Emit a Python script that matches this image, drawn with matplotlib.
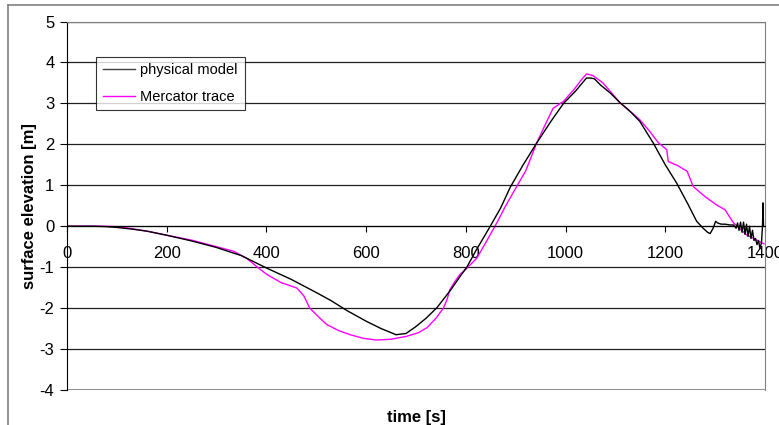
import matplotlib.pyplot as plt
from matplotlib.lines import Line2D

plt.rcParams['font.family'] = ['Liberation Sans', 'DejaVu Sans']

# physical model (black)
phys_t = [0, 50, 80, 100, 130, 160, 200, 250, 300, 350, 380, 400, 450, 500, 530,
          560, 600, 630, 660, 680, 700, 720, 742, 770, 790, 802, 820, 849, 870, 889,
          915, 942, 970, 996, 1020, 1042, 1050, 1058, 1070, 1090, 1109, 1130, 1149,
          1176, 1200, 1223, 1245, 1263, 1276, 1285, 1290, 1296, 1301, 1305, 1312,
          1320, 1330, 1337, 1342, 1345, 1348, 1351, 1354, 1357, 1360, 1363, 1366,
          1369, 1372, 1375, 1378, 1381, 1384, 1387, 1390, 1393, 1395, 1396, 1397]
phys_z = [0, 0, -0.01, -0.03, -0.07, -0.12, -0.22, -0.36, -0.52, -0.72, -0.9, -1.02,
          -1.3, -1.62, -1.82, -2.05, -2.32, -2.5, -2.65, -2.62, -2.45, -2.25, -1.99,
          -1.55, -1.2, -1.0, -0.6, 0.0, 0.45, 0.95, 1.5, 2.03, 2.55, 3.0, 3.3, 3.62,
          3.62, 3.6, 3.45, 3.25, 3.02, 2.8, 2.56, 2.03, 1.5, 1.05, 0.55, 0.12, -0.05,
          -0.15, -0.18, -0.05, 0.12, 0.08, 0.05, 0.05, 0.03, 0.03, -0.05, 0.08, -0.1,
          0.1, -0.15, 0.1, -0.2, 0.05, -0.25, 0.0, -0.3, -0.1, -0.35, -0.3, -0.45,
          -0.35, -0.55, -0.4, 0.0, 0.57, 0.0]

# Mercator trace (magenta)
merc_t = [0, 60, 100, 120, 160, 200, 250, 300, 334, 360, 380, 401, 430, 461, 475,
          487, 505, 521, 545, 568, 595, 621, 650, 681, 705, 722, 740, 755, 762, 768,
          778, 788, 800, 822, 840, 862, 880, 902, 920, 942, 960, 975, 996, 1019, 1030,
          1042, 1055, 1075, 1109, 1130, 1149, 1170, 1186, 1203, 1206, 1225, 1244,
          1256, 1280, 1303, 1320, 1337, 1363, 1385, 1398]
merc_z = [0, 0, -0.01, -0.04, -0.12, -0.22, -0.34, -0.5, -0.61, -0.78, -0.98, -1.18,
          -1.38, -1.51, -1.7, -2.0, -2.22, -2.4, -2.55, -2.65, -2.74, -2.78, -2.76,
          -2.69, -2.6, -2.48, -2.25, -2.0, -1.8, -1.55, -1.35, -1.18, -1.05, -0.78,
          -0.4, 0.08, 0.5, 0.97, 1.35, 2.03, 2.5, 2.88, 3.05, 3.37, 3.55, 3.72, 3.68,
          3.5, 3.02, 2.8, 2.6, 2.3, 2.04, 1.87, 1.58, 1.48, 1.34, 0.97, 0.72, 0.52,
          0.4, 0.08, -0.21, -0.35, -0.43]

x_ticks = [0, 200, 400, 600, 800, 1000, 1200, 1400]
y_ticks = [-4, -3, -2, -1, 0, 1, 2, 3, 4, 5]

fig = plt.figure(figsize=(7.79, 4.25), dpi=100)
ax = fig.add_axes([0.086, 0.0824, 0.896, 0.867])

# outer chart frame (top and left edges visible)
fig.add_artist(Line2D([8 / 779, 1], [1 - 5 / 425, 1 - 5 / 425], color='#808080', lw=1.2))
fig.add_artist(Line2D([8 / 779, 8 / 779], [0, 1 - 5 / 425], color='#808080', lw=1.2))

ax.set_xlim(0, 1400)
ax.set_ylim(-4, 5)
ax.set_yticks(y_ticks)
ax.set_xticks(x_ticks)
ax.set_yticklabels([str(v) for v in y_ticks])
ax.set_xticklabels([str(v) for v in x_ticks])
ax.tick_params(axis='both', labelsize=12, colors='black', width=0.8)
ax.tick_params(axis='y', length=5, pad=4)
ax.tick_params(axis='x', length=4, pad=10, direction='out')

for v in y_ticks:
    ax.axhline(v, color='#202020', lw=0.9, zorder=1)

ax.spines['bottom'].set_position(('data', 0))
ax.spines['bottom'].set_color('black')
ax.spines['left'].set_color('black')
ax.spines['top'].set_color('#808080')
ax.spines['right'].set_color('#808080')

# bottom border of the plot area
ax.axhline(-4, color='#808080', lw=1.2, zorder=1)

ax.plot(phys_t, phys_z, color='black', lw=1.0, label='physical model', zorder=3)
ax.plot(merc_t, merc_z, color='#ff00ff', lw=1.0, label='Mercator trace', zorder=2)

ax.set_ylabel('surface elevation [m]', fontsize=12, fontweight='bold', labelpad=2)
ax.set_xlabel('time [s]', fontsize=12, fontweight='bold')
ax.xaxis.set_label_coords(0.5, -0.055)

leg = ax.legend(loc='upper left', bbox_to_anchor=(0.0415, 0.904), fontsize=10.5,
                frameon=True, fancybox=False, handlelength=2.2, borderpad=0.45,
                labelspacing=0.85, handletextpad=0.4, borderaxespad=0)
leg.get_frame().set_edgecolor('black')
leg.get_frame().set_linewidth(0.8)
leg.get_lines()[0].set_color('#404040')

fig.savefig('out.png', dpi=100)
